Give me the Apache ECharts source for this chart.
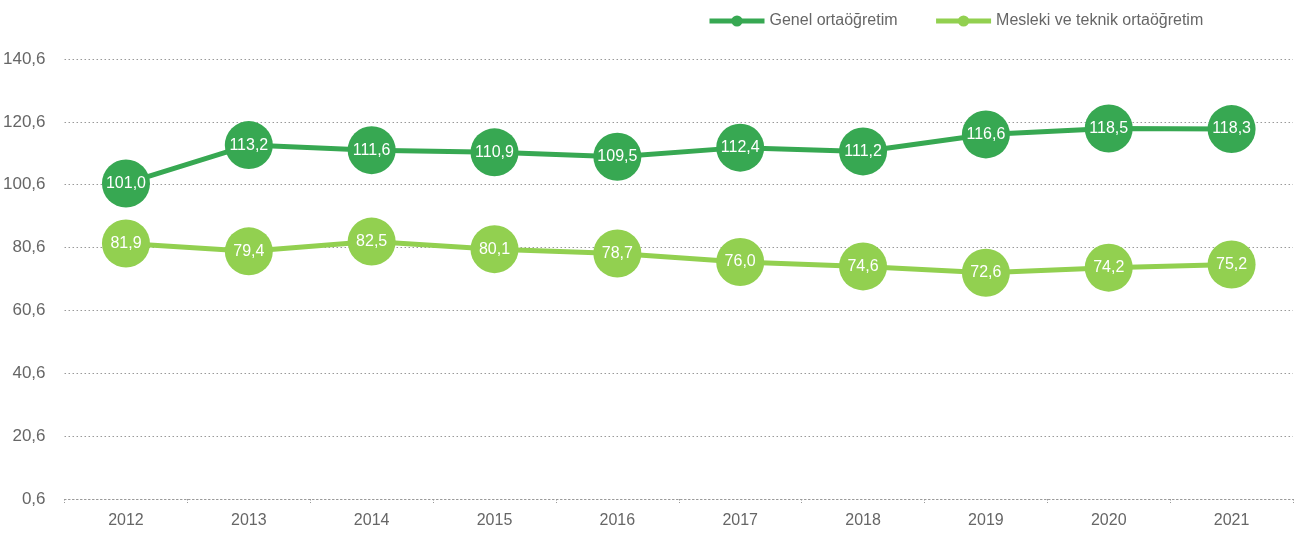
<!DOCTYPE html>
<html>
<head>
<meta charset="utf-8">
<script src="https://cdn.jsdelivr.net/npm/echarts@6/dist/echarts.min.js"></script>
<style>
  html, body { margin: 0; padding: 0; background: #fff; }
  #chart { width: 1303px; height: 538px; }
</style>
</head>
<body>
<div id="chart"></div>
<script>
// veriler
var years = ['2012', '2013', '2014', '2015', '2016', '2017', '2018', '2019', '2020', '2021'];
var genel = [101.0, 113.2, 111.6, 110.9, 109.5, 112.4, 111.2, 116.6, 118.5, 118.3];
var mesleki = [81.9, 79.4, 82.5, 80.1, 78.7, 76.0, 74.6, 72.6, 74.2, 75.2];
var seriesNames = ['Genel ortaöğretim', 'Mesleki ve teknik ortaöğretim'];

var font = '"Liberation Sans", sans-serif';

function comma(v) {
    return Number(v).toFixed(1).replace('.', ',');
}

var myChart = echarts.init(document.getElementById('chart'));

function makeSeries(name, data, color) {
    return {
        name: name,
        type: 'line',
        data: data,
        symbol: 'circle',
        symbolSize: 48,
        lineStyle: { width: 5, color: color },
        itemStyle: { color: color },
        label: {
            show: true,
            position: 'inside',
            color: '#fff',
            fontSize: 16,
            fontFamily: font,
            formatter: function (p) { return comma(p.value); }
        },
        emphasis: { disabled: true }
    };
}

var option = {
    animation: false,
    grid: { left: 63, right: 10, top: 59, bottom: 39 },
    legend: {
        top: 8,
        left: 702,
        itemWidth: 55,
        itemHeight: 14,
        itemGap: 36,
        lineStyle: { width: 5 },
        textStyle: { color: '#666', fontSize: 16, fontFamily: font },
        data: seriesNames
    },
    xAxis: {
        type: 'category',
        data: years,
        boundaryGap: true,
        axisLine: { show: true, lineStyle: { color: '#999', type: [1.5, 2.5], width: 1 } },
        axisTick: { show: true, length: 4, lineStyle: { color: '#999', type: [1.5, 1.5] } },
        axisLabel: { color: '#666', fontSize: 16, fontFamily: font, margin: 14 }
    },
    yAxis: {
        type: 'value',
        min: 0.6,
        max: 140.6,
        interval: 20,
        axisLine: { show: false },
        axisTick: { show: false },
        splitLine: { lineStyle: { color: '#999', type: [1.5, 2.5], width: 1 } },
        axisLabel: {
            color: '#666', fontSize: 17, fontFamily: font, margin: 19,
            formatter: function (v) { return comma(v); }
        }
    },
    series: [
        makeSeries(seriesNames[0], genel, '#37a852'),
        makeSeries(seriesNames[1], mesleki, '#92d050')
    ]
};

myChart.setOption(option);
</script>
</body>
</html>
